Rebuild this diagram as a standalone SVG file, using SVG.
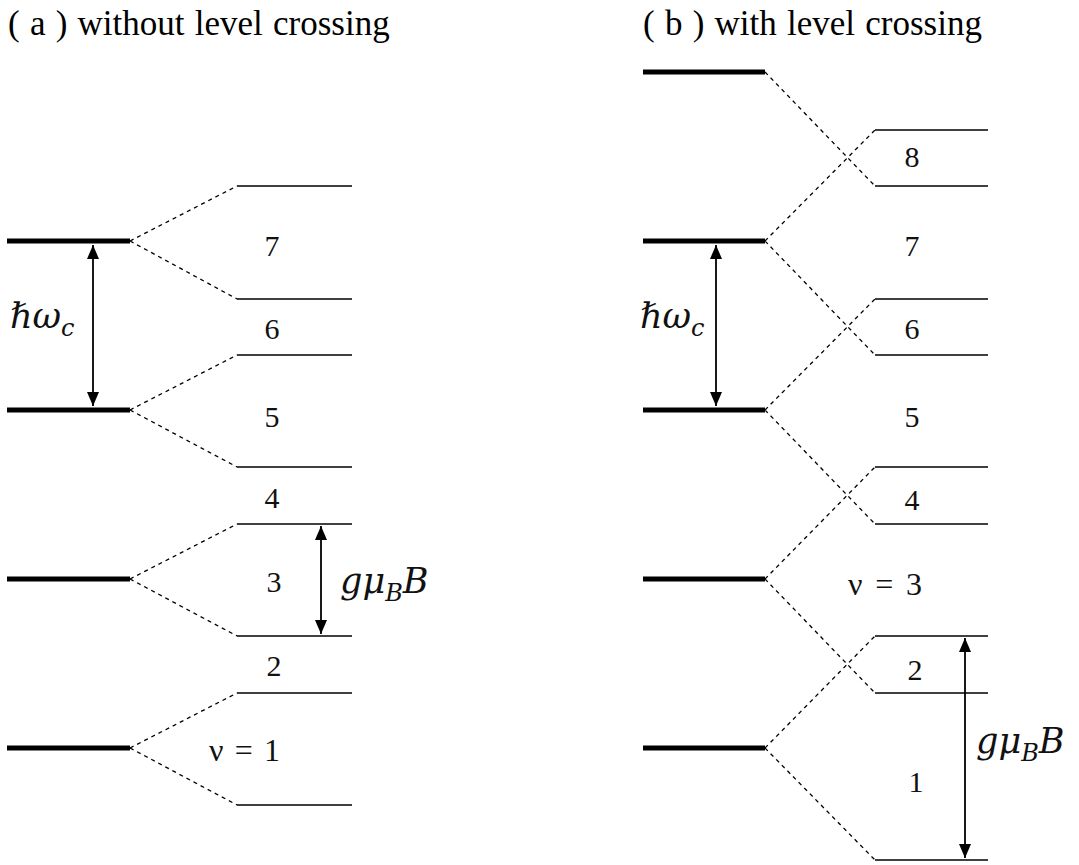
<svg xmlns="http://www.w3.org/2000/svg" width="1079" height="865" viewBox="0 0 1079 865">
<style>
.thick{stroke:#000;stroke-width:5}
.thin{stroke:#000;stroke-width:1.6}
.dash{stroke:#000;stroke-width:1.3;stroke-dasharray:4 4;fill:none}
.arr{stroke:#000;stroke-width:1.8;marker-start:url(#ah);marker-end:url(#ah)}
.num{font-family:"Liberation Serif",serif;font-size:30px;fill:#111;text-anchor:middle}
.nu{font-family:"Liberation Serif",serif;font-size:32px;fill:#111}
.title{font-family:"Liberation Serif",serif;font-size:35px;fill:#000;word-spacing:1.5px}
.math{font-family:"DejaVu Serif","Liberation Serif",serif;font-style:italic;font-size:35px;fill:#111}
.sub{font-size:24px}
</style>
<defs>
<marker id="ah" viewBox="0 0 14 12" refX="14" refY="6" markerWidth="14" markerHeight="12" markerUnits="userSpaceOnUse" orient="auto-start-reverse">
<path d="M0,0 L14,6 L0,12 z" fill="#000"/>
</marker>
</defs>
<rect width="1079" height="865" fill="#fff"/>
<text class="title" x="8" y="35">( a ) without level crossing</text>
<text class="title" x="643" y="35">( b ) with level crossing</text>

<g id="panel-a">
<g id="a-levels">
<line class="thick" x1="7" y1="241" x2="130" y2="241"/>
<line class="thick" x1="7" y1="410" x2="130" y2="410"/>
<line class="thick" x1="7" y1="579" x2="130" y2="579"/>
<line class="thick" x1="7" y1="748" x2="130" y2="748"/>
<line class="thin" x1="237" y1="186" x2="352" y2="186"/>
<line class="thin" x1="237" y1="299" x2="352" y2="299"/>
<line class="thin" x1="237" y1="355" x2="352" y2="355"/>
<line class="thin" x1="237" y1="467" x2="352" y2="467"/>
<line class="thin" x1="237" y1="524" x2="352" y2="524"/>
<line class="thin" x1="237" y1="636" x2="352" y2="636"/>
<line class="thin" x1="237" y1="693" x2="352" y2="693"/>
<line class="thin" x1="237" y1="805" x2="352" y2="805"/>
</g>
<g id="a-labels">
<text class="num" x="272" y="256">7</text>
<text class="num" x="272" y="339">6</text>
<text class="num" x="272" y="427">5</text>
<text class="num" x="272" y="508">4</text>
<text class="num" x="274" y="592">3</text>
<text class="num" x="274" y="676">2</text>
<text class="nu" x="209" y="761" textLength="71" lengthAdjust="spacing">ν = 1</text>
<text class="math" x="10" y="328">ℏω<tspan class="sub" dy="8">c</tspan></text>
<text class="math" x="340" y="593">gμ<tspan class="sub" dy="8">B</tspan><tspan dy="-8">B</tspan></text>
</g>
</g>

<g id="panel-b">
<g id="b-levels">
<line class="thick" x1="643" y1="72" x2="765" y2="72"/>
<line class="thick" x1="643" y1="241" x2="765" y2="241"/>
<line class="thick" x1="643" y1="410" x2="765" y2="410"/>
<line class="thick" x1="643" y1="579" x2="765" y2="579"/>
<line class="thick" x1="643" y1="748" x2="765" y2="748"/>
<line class="thin" x1="875" y1="130" x2="988" y2="130"/>
<line class="thin" x1="875" y1="186" x2="988" y2="186"/>
<line class="thin" x1="875" y1="299" x2="988" y2="299"/>
<line class="thin" x1="875" y1="355" x2="988" y2="355"/>
<line class="thin" x1="875" y1="467" x2="988" y2="467"/>
<line class="thin" x1="875" y1="524" x2="988" y2="524"/>
<line class="thin" x1="875" y1="636" x2="988" y2="636"/>
<line class="thin" x1="875" y1="693" x2="988" y2="693"/>
<line class="thin" x1="875" y1="860" x2="988" y2="860"/>
</g>
<g id="b-labels">
<text class="num" x="912" y="167">8</text>
<text class="num" x="912" y="256">7</text>
<text class="num" x="912" y="339">6</text>
<text class="num" x="912" y="427">5</text>
<text class="num" x="912" y="510">4</text>
<text class="nu" x="848" y="595" textLength="74" lengthAdjust="spacing">ν = 3</text>
<text class="num" x="915" y="680">2</text>
<text class="num" x="916" y="792">1</text>
<text class="math" x="640" y="328">ℏω<tspan class="sub" dy="8">c</tspan></text>
<text class="math" x="976" y="753">gμ<tspan class="sub" dy="8">B</tspan><tspan dy="-8">B</tspan></text>
</g>
</g>

<g id="connectors">
<path class="dash" d="M130,241 L237,186 M130,241 L237,299 M130,410 L237,355 M130,410 L237,467 M130,579 L237,524 M130,579 L237,636 M130,748 L237,693 M130,748 L237,805"/>
<path class="dash" d="M765,72 L875,186 M765,241 L875,130 M765,241 L875,355 M765,410 L875,299 M765,410 L875,524 M765,579 L875,467 M765,579 L875,693 M765,748 L875,636 M765,748 L875,860"/>
<line class="arr" x1="93" y1="245" x2="93" y2="406"/>
<line class="arr" x1="321" y1="526" x2="321" y2="634"/>
<line class="arr" x1="716" y1="245" x2="716" y2="406"/>
<line class="arr" x1="965" y1="638" x2="965" y2="858"/>
</g>
</svg>
